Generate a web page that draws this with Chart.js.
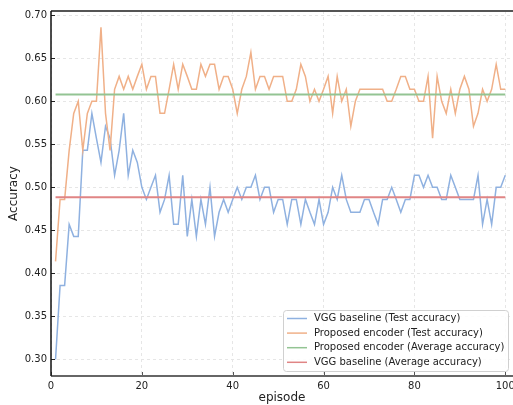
<!DOCTYPE html>
<html>
<head>
<meta charset="utf-8">
<script src="https://cdn.jsdelivr.net/npm/chart.js@4.4.1/dist/chart.umd.min.js"></script>
<style>
  html, body { margin: 0; padding: 0; background: #fff; }
  #wrap { width: 513px; height: 405px; }
</style>
</head>
<body>
<div id="wrap"><canvas id="chart" width="513" height="405"></canvas></div>
<script>
// episode index
const episodes = Array.from({ length: 100 }, (_, i) => i + 1);

const vggTest = [
  0.300, 0.386, 0.386, 0.457, 0.443, 0.443, 0.543, 0.543, 0.586, 0.557,
  0.529, 0.571, 0.557, 0.514, 0.543, 0.586, 0.514, 0.543, 0.529, 0.500,
  0.486, 0.500, 0.514, 0.471, 0.486, 0.514, 0.457, 0.457, 0.514, 0.443,
  0.486, 0.443, 0.486, 0.457, 0.500, 0.443, 0.471, 0.486, 0.471, 0.486,
  0.500, 0.486, 0.500, 0.500, 0.514, 0.486, 0.500, 0.500, 0.471, 0.486,
  0.486, 0.457, 0.486, 0.486, 0.457, 0.486, 0.471, 0.457, 0.486, 0.457,
  0.471, 0.500, 0.486, 0.514, 0.486, 0.471, 0.471, 0.471, 0.486, 0.486,
  0.471, 0.457, 0.486, 0.486, 0.500, 0.486, 0.471, 0.486, 0.486, 0.514,
  0.514, 0.500, 0.514, 0.500, 0.500, 0.486, 0.486, 0.514, 0.500, 0.486,
  0.486, 0.486, 0.486, 0.514, 0.457, 0.486, 0.457, 0.500, 0.500, 0.514
];

const proposedTest = [
  0.414, 0.486, 0.486, 0.543, 0.586, 0.600, 0.543, 0.586, 0.600, 0.600,
  0.686, 0.586, 0.543, 0.614, 0.629, 0.614, 0.629, 0.614, 0.629, 0.643,
  0.614, 0.629, 0.629, 0.586, 0.586, 0.614, 0.643, 0.614, 0.643, 0.629,
  0.614, 0.614, 0.643, 0.629, 0.643, 0.643, 0.614, 0.629, 0.629, 0.614,
  0.586, 0.614, 0.629, 0.657, 0.614, 0.629, 0.629, 0.614, 0.629, 0.629,
  0.629, 0.600, 0.600, 0.614, 0.643, 0.629, 0.600, 0.614, 0.600, 0.614,
  0.629, 0.586, 0.629, 0.600, 0.614, 0.571, 0.600, 0.614, 0.614, 0.614,
  0.614, 0.614, 0.614, 0.600, 0.600, 0.614, 0.629, 0.629, 0.614, 0.614,
  0.600, 0.600, 0.629, 0.557, 0.629, 0.600, 0.586, 0.614, 0.586, 0.614,
  0.629, 0.614, 0.571, 0.586, 0.614, 0.600, 0.614, 0.643, 0.614, 0.614
];

const proposedAvg = 0.6078;
const vggAvg = 0.4884;

const xTicks = [0, 20, 40, 60, 80, 100];
const yTicks = [0.30, 0.35, 0.40, 0.45, 0.50, 0.55, 0.60, 0.65, 0.70];

const colors = {
  vgg: '#8fb1e0',
  proposed: '#f0b088',
  proposedAvg: '#93c493',
  vggAvg: '#e08585'
};

const toPoints = arr => arr.map((v, i) => ({ x: episodes[i], y: v }));
const flat = v => [{ x: episodes[0], y: v }, { x: episodes[episodes.length - 1], y: v }];

// spines, inward ticks and an in-plot legend, matplotlib style
const frameAndLegend = {
  id: 'frameAndLegend',
  afterDraw(chart) {
    const { ctx, chartArea: a, scales } = chart;
    ctx.save();
    // ticks
    ctx.lineWidth = 1;
    ctx.strokeStyle = '#222';
    yTicks.forEach(t => {
      const y = Math.round(scales.y.getPixelForValue(t)) + 0.5;
      ctx.beginPath(); ctx.moveTo(a.left, y); ctx.lineTo(a.left + 4, y); ctx.stroke();
    });
    ctx.strokeStyle = '#555';
    xTicks.forEach(t => {
      const x = Math.round(scales.x.getPixelForValue(t)) + 0.5;
      ctx.beginPath(); ctx.moveTo(x, a.bottom); ctx.lineTo(x, a.bottom - 4); ctx.stroke();
    });
    // spines
    ctx.lineWidth = 2;
    ctx.strokeStyle = '#555';
    ctx.beginPath(); ctx.moveTo(a.left, a.top); ctx.lineTo(a.right, a.top); ctx.stroke();
    ctx.strokeStyle = '#666';
    ctx.beginPath(); ctx.moveTo(a.left, a.bottom); ctx.lineTo(a.right, a.bottom); ctx.stroke();
    ctx.lineWidth = 1.5;
    ctx.strokeStyle = '#111';
    ctx.beginPath(); ctx.moveTo(a.left, a.top); ctx.lineTo(a.left, a.bottom); ctx.stroke();

    // legend
    const bx = 283, by = 310, bw = 225, bh = 61;
    ctx.fillStyle = 'rgba(255,255,255,0.85)';
    ctx.strokeStyle = '#d0d0d0';
    ctx.lineWidth = 1;
    ctx.beginPath();
    ctx.roundRect(bx + 0.5, by + 0.5, bw, bh, 3);
    ctx.fill();
    ctx.stroke();
    ctx.font = '10px "DejaVu Sans"';
    ctx.textBaseline = 'middle';
    ctx.textAlign = 'left';
    chart.data.datasets.forEach((ds, i) => {
      const y = by + 8.5 + i * 14.6;
      ctx.strokeStyle = ds.borderColor;
      ctx.lineWidth = 1.5;
      ctx.beginPath(); ctx.moveTo(bx + 4, y); ctx.lineTo(bx + 24, y); ctx.stroke();
      ctx.fillStyle = '#222';
      ctx.fillText(ds.label, bx + 31, y);
    });
    ctx.restore();
  }
};

Chart.defaults.font.family = '"DejaVu Sans", sans-serif';
Chart.defaults.font.size = 10;
Chart.defaults.color = '#222';

new Chart(document.getElementById('chart'), {
  type: 'line',
  data: {
    datasets: [
      {
        label: 'VGG baseline (Test accuracy)',
        data: toPoints(vggTest),
        borderColor: colors.vgg,
        borderWidth: 1.5,
        order: 4
      },
      {
        label: 'Proposed encoder (Test accuracy)',
        data: toPoints(proposedTest),
        borderColor: colors.proposed,
        borderWidth: 1.5,
        order: 3
      },
      {
        label: 'Proposed encoder (Average accuracy)',
        data: flat(proposedAvg),
        borderColor: colors.proposedAvg,
        borderWidth: 2,
        order: 2
      },
      {
        label: 'VGG baseline (Average accuracy)',
        data: flat(vggAvg),
        borderColor: colors.vggAvg,
        borderWidth: 2,
        order: 1
      }
    ]
  },
  options: {
    responsive: false,
    animation: false,
    parsing: false,
    elements: { point: { radius: 0 }, line: { tension: 0, fill: false } },
    layout: { padding: { top: 11, right: 0, bottom: 0, left: 0 } },
    plugins: { legend: { display: false }, tooltip: { enabled: false } },
    scales: {
      x: {
        type: 'linear',
        min: 0,
        max: 101.7,
        ticks: { stepSize: 20, includeBounds: false, padding: 4, maxRotation: 0 },
        grid: { color: '#e6e6e6', drawTicks: false },
        border: { display: false, dash: [3, 3] },
        title: { display: true, text: 'episode', font: { size: 12 }, padding: { top: 0, bottom: 0 } },
        afterFit(s) { s.height = 29; s.paddingLeft = 0; s.paddingRight = 0; }
      },
      y: {
        min: 0.2807,
        max: 0.7050,
        ticks: { stepSize: 0.05, includeBounds: false, padding: 4, callback: v => v.toFixed(2) },
        grid: { color: '#e6e6e6', drawTicks: false },
        border: { display: false, dash: [3, 3] },
        title: { display: true, text: 'Accuracy', font: { size: 12 }, padding: { top: 7, bottom: 0 } },
        afterFit(s) { s.width = 51; s.paddingTop = 0; s.paddingBottom = 0; }
      }
    }
  },
  plugins: [frameAndLegend]
});
</script>
</body>
</html>
